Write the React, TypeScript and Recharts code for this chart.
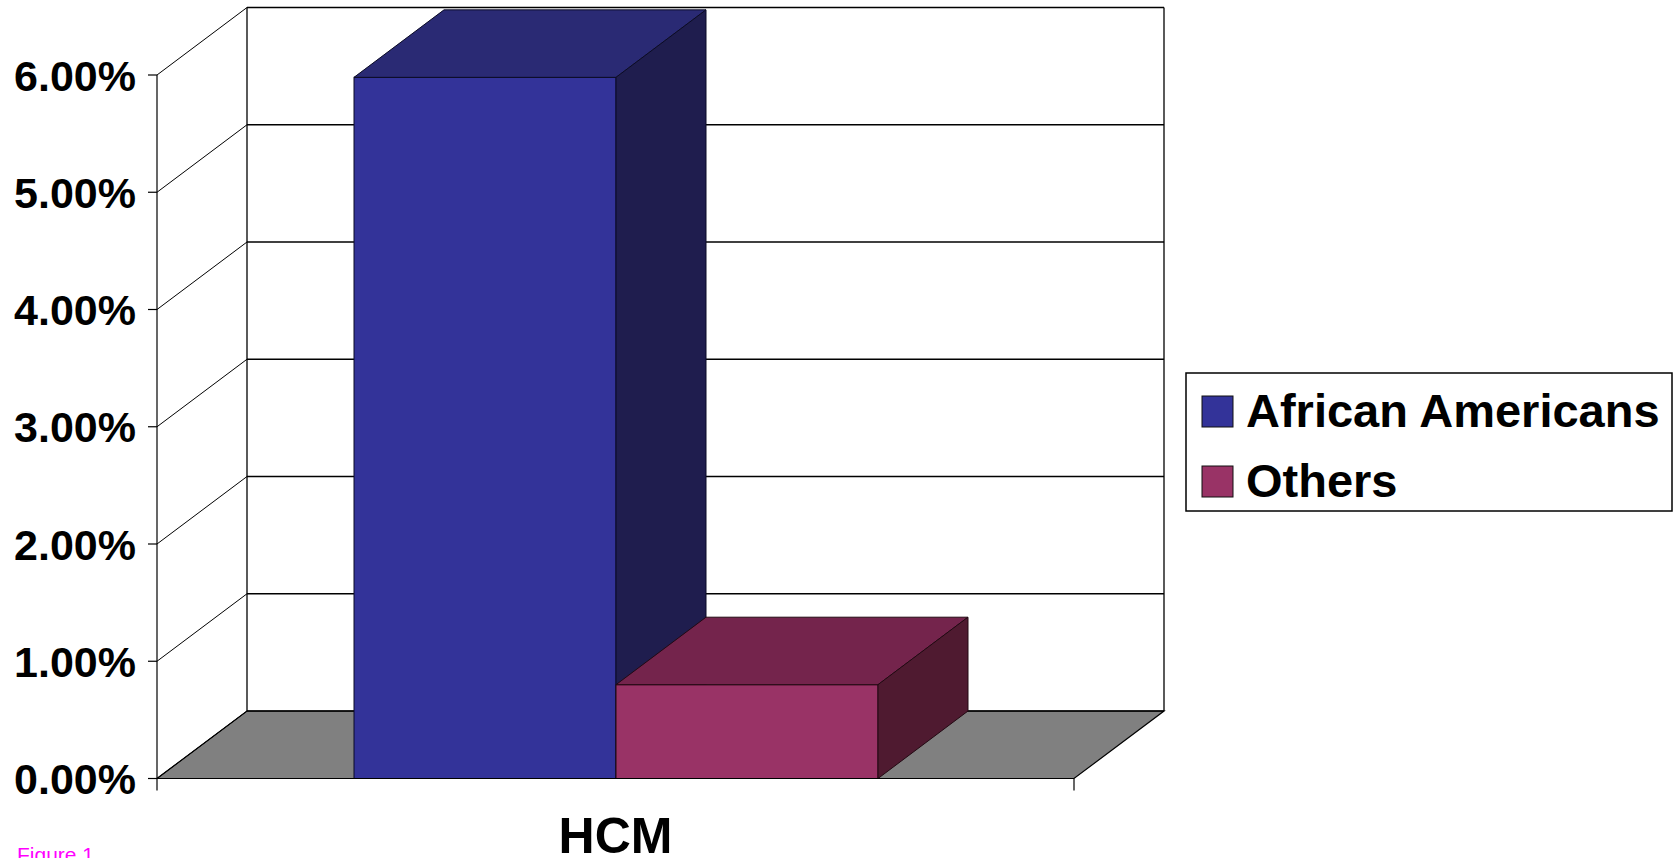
import React from 'react';
import { BarChart, Bar, XAxis, YAxis, CartesianGrid, Legend } from 'recharts';

// ---- data ----
const categories = ['HCM'];
const africanAmericans = [0.0598];
const others = [0.008];
const yTicks = [0, 0.01, 0.02, 0.03, 0.04, 0.05, 0.06];
const seriesNames = ['African Americans', 'Others'];

const data = categories.map((c, i) => ({
  category: c,
  aa: africanAmericans[i],
  others: others[i],
}));

// ---- style ----
const W = 1677;
const H = 858;
const DX = 90;
const DY = -67.5;
const FONT = '"Liberation Sans", Arial, Helvetica, sans-serif';

const palette = {
  aa: { front: '#333399', top: '#2a2a74', side: '#1f1d4e', edge: '#0b0b26' },
  others: { front: '#993366', top: '#74244c', side: '#4f1a30', edge: '#220912' },
};

const make3D = (pal: any) => (props: any) => {
  const { x, y, width, height } = props;
  if (x == null || width == null || height == null) return <g />;
  const x2 = x + width;
  const yb = y + height;
  return (
    <g>
      <rect x={x} y={y} width={width} height={height} fill={pal.front} stroke={pal.edge} strokeWidth={1} />
      <polygon
        points={`${x},${y} ${x2},${y} ${x2 + DX},${y + DY} ${x + DX},${y + DY}`}
        fill={pal.top}
        stroke={pal.edge}
        strokeWidth={1}
      />
      <polygon
        points={`${x2},${y} ${x2 + DX},${y + DY} ${x2 + DX},${yb + DY} ${x2},${yb}`}
        fill={pal.side}
        stroke={pal.edge}
        strokeWidth={1}
      />
    </g>
  );
};

const gridLine = (p: any) => {
  const { x1, y1, x2, y, height, index } = p;
  const top = y;
  const bottom = y + height;
  const isBottom = Math.abs(y1 - bottom) < 0.6;
  const isTop = Math.abs(y1 - top) < 0.6;
  return (
    <g key={`gl-${index}`}>
      {isBottom && (
        <polygon
          points={`${x1},${y1} ${x2},${y1} ${x2 + DX},${y1 + DY} ${x1 + DX},${y1 + DY}`}
          fill="#808080"
          stroke="#000"
          strokeWidth={1.2}
        />
      )}
      <line x1={x1 + DX} y1={y1 + DY} x2={x2 + DX} y2={y1 + DY} stroke="#000" strokeWidth={1.3} />
      <line x1={x1} y1={y1} x2={x1 + DX} y2={y1 + DY} stroke="#000" strokeWidth={1} />
      {isTop && (
        <g>
          <line x1={x1 + DX} y1={y1 + DY} x2={x1 + DX} y2={bottom + DY} stroke="#000" strokeWidth={1.3} />
          <line x1={x2 + DX} y1={y1 + DY} x2={x2 + DX} y2={bottom + DY} stroke="#000" strokeWidth={1.3} />
        </g>
      )}
      {isBottom && (
        <g>
          <line x1={x2} y1={y1} x2={x2} y2={y1 + 12} stroke="#000" strokeWidth={1.2} />
          <line x1={x1} y1={y1} x2={x1} y2={y1 + 12} stroke="#000" strokeWidth={1.2} />
        </g>
      )}
    </g>
  );
};

const fmtPct = (v: number) => `${(v * 100).toFixed(2)}%`;

const YTick = (props: any) => {
  const { x, y, payload } = props;
  return (
    <text x={x} y={y + 15.5} textAnchor="end" fontFamily={FONT} fontWeight="bold" fontSize={43} fill="#000">
      {fmtPct(payload.value)}
    </text>
  );
};

const XTick = (props: any) => {
  const { x, y, payload } = props;
  return (
    <text x={x} y={y + 74} textAnchor="middle" fontFamily={FONT} fontWeight="bold" fontSize={50} fill="#000">
      {payload.value}
    </text>
  );
};

const renderLegend = (props: any) => {
  const payload = props.payload || [];
  return (
    <svg width={488} height={140} style={{ display: 'block' }}>
      <rect x={1} y={1} width={486} height={138} fill="#fff" stroke="#000" strokeWidth={1.5} />
      {payload.map((p: any, i: number) => (
        <g key={i}>
          <rect x={17} y={24 + i * 70} width={31} height={31} fill={p.color} stroke="#111" strokeWidth={1} />
          <text x={61} y={55 + i * 70} fontFamily={FONT} fontWeight="bold" fontSize={47} fill="#000">
            {p.value}
          </text>
        </g>
      ))}
    </svg>
  );
};

export default function App() {
  return (
    <div
      style={{
        position: 'absolute',
        left: 0,
        top: 0,
        width: W,
        height: H,
        overflow: 'hidden',
        background: '#fff',
      }}
    >
      <BarChart
        width={W}
        height={H}
        data={data}
        margin={{ top: 75, right: 603, bottom: 19.5, left: 7 }}
        barGap={0}
        barSize={262}
      >
        <CartesianGrid horizontal={gridLine} vertical={false} />
        <XAxis
          dataKey="category"
          height={60}
          tickLine={false}
          tickSize={0}
          tickMargin={0}
          axisLine={{ stroke: '#000', strokeWidth: 1.2 }}
          tick={<XTick />}
          interval={0}
        />
        <YAxis
          width={150}
          domain={[0, 0.06]}
          ticks={yTicks}
          interval={0}
          tickSize={9}
          tickMargin={12}
          tickLine={{ stroke: '#000', strokeWidth: 1.2 }}
          axisLine={{ stroke: '#000', strokeWidth: 1.2 }}
          tick={<YTick />}
        />
        <Legend
          layout="horizontal"
          verticalAlign="middle"
          align="center"
          wrapperStyle={{ left: 1185, top: 372, width: 488, height: 140 }}
          content={renderLegend}
        />
        <Bar
          dataKey="aa"
          name={seriesNames[0]}
          fill={palette.aa.front}
          shape={make3D(palette.aa)}
          isAnimationActive={false}
        />
        <Bar
          dataKey="others"
          name={seriesNames[1]}
          fill={palette.others.front}
          shape={make3D(palette.others)}
          isAnimationActive={false}
        />
      </BarChart>
      <div
        style={{
          position: 'absolute',
          left: 17,
          top: 844,
          fontFamily: FONT,
          fontSize: 21,
          lineHeight: '21px',
          color: '#ff00ff',
          whiteSpace: 'nowrap',
        }}
      >
        Figure 1
      </div>
    </div>
  );
}
